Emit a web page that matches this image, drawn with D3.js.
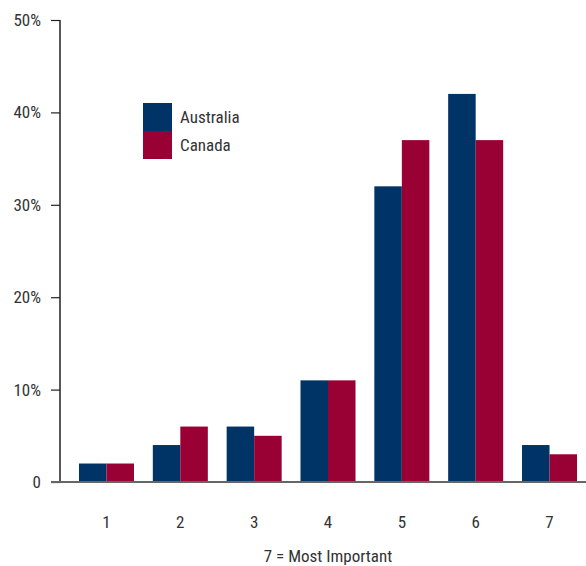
<!DOCTYPE html>
<html><head><meta charset="utf-8">
<script src="https://cdn.jsdelivr.net/npm/d3@7"></script>
<style>body{margin:0;background:#fff}svg{display:block}text{font-family:"Liberation Sans Narrow","Roboto Condensed","Liberation Sans",sans-serif;fill:#333}</style>
</head><body>
<svg id="c" width="586" height="566"></svg>
<script>
const categories = ["1","2","3","4","5","6","7"];
const australia = [2,4,6,11,32,42,4];
const canada = [2,6,5,11,37,37,3];
const seriesNames = ["Australia","Canada"];
const seriesColors = ["#003366","#990033"];
const yTicks = [0,10,20,30,40,50];
const yTickLabels = ["0","10%","20%","30%","40%","50%"];
const xTitle = "7 = Most Important";

const svg = d3.select("#c");
const y = d3.scaleLinear().domain([0,50]).range([482,20]);
const x = d3.scaleBand().domain(categories).range([60,596]).paddingInner(0.255).paddingOuter(0.257);
const xs = d3.scaleBand().domain(seriesNames).range([0,x.bandwidth()]);
const series = [australia, canada];

// bars
series.forEach((vals,si)=>{
  svg.append("g").selectAll("rect").data(vals).join("rect")
    .attr("x",(d,i)=>x(categories[i])+xs(seriesNames[si]))
    .attr("y",d=>y(d))
    .attr("width",xs.bandwidth())
    .attr("height",d=>y(0)-y(d))
    .attr("fill",seriesColors[si]);
});

// y axis
const ya = svg.append("g").attr("transform","translate(60,0)")
  .call(d3.axisLeft(y).tickValues(yTicks).tickFormat((d,i)=>yTickLabels[i]).tickSize(9).tickPadding(10));
ya.select(".domain").attr("stroke","#222").attr("stroke-width",1.5).attr("d","M0,20V482");
ya.selectAll(".tick line").attr("stroke","#222").attr("stroke-width",1.2);
ya.selectAll("text").style("font-size","17px").attr("fill","#333");

// x axis line
svg.append("line").attr("x1",51).attr("x2",586).attr("y1",y(0)).attr("y2",y(0))
  .attr("stroke","#666").attr("stroke-width",2);

// x labels
svg.append("g").selectAll("text").data(categories).join("text")
  .attr("x",d=>x(d)+x.bandwidth()/2).attr("y",528)
  .attr("text-anchor","middle").style("font-size","17px").text(d=>d);

// x title
svg.append("text").attr("x",328).attr("y",562).attr("text-anchor","middle")
  .style("font-size","17px").text(xTitle);

// legend
const lg = svg.append("g");
seriesNames.forEach((n,i)=>{
  lg.append("rect").attr("x",143).attr("y",103+i*28).attr("width",29).attr("height",28).attr("fill",seriesColors[i]);
  lg.append("text").attr("x",180).attr("y",117+i*28).attr("dy","0.35em").style("font-size","17px").text(n);
});
</script>
</body></html>
